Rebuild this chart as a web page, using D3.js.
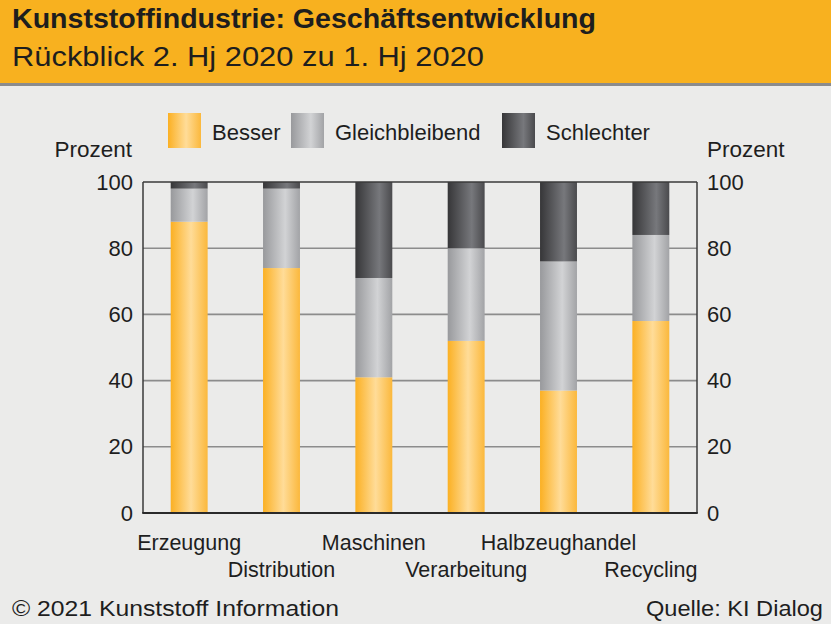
<!DOCTYPE html>
<html><head><meta charset="utf-8">
<script src="https://cdn.jsdelivr.net/npm/d3@7"></script>
<style>
html,body{margin:0;padding:0;background:#ebebea;}
svg{display:block;}
svg text{font-family:'Liberation Sans',Arial,sans-serif;}
</style></head>
<body><svg id="c" width="831" height="624"></svg>
<script>
const categories = ["Erzeugung","Distribution","Maschinen","Verarbeitung","Halbzeughandel","Recycling"];
const besser = [88, 74, 41, 52, 37, 58];
const gleich = [10, 24, 30, 28, 39, 26];
const schlechter = [2, 2, 29, 20, 24, 16];
const seriesNames = ["Besser","Gleichbleibend","Schlechter"];
const yTicks = [0,20,40,60,80,100];

(function(){
const FONT = "'Liberation Sans', Arial, sans-serif";
const svg = d3.select("#c");
const W = 831, H = 624;
svg.append("rect").attr("width",W).attr("height",H).attr("fill","#ebebea");

// header
svg.append("rect").attr("x",0).attr("y",0).attr("width",W).attr("height",83).attr("fill","#f8b11f");
svg.append("rect").attr("x",0).attr("y",83).attr("width",W).attr("height",3).attr("fill","#8a8b8d");
svg.append("text").attr("x",12).attr("y",28).attr("font-size",27.5).attr("font-weight","bold")
  .style("font-family",FONT).attr("textLength",584).attr("lengthAdjust","spacingAndGlyphs")
  .attr("fill","#1e1e1e").text("Kunststoffindustrie: Geschäftsentwicklung");
svg.append("text").attr("x",12).attr("y",66).attr("font-size",28).style("font-family",FONT)
  .attr("textLength",472).attr("lengthAdjust","spacingAndGlyphs")
  .attr("fill","#1e1e1e").text("Rückblick 2. Hj 2020 zu 1. Hj 2020");

// gradients
const defs = svg.append("defs");
const grads = [
  {id:"gB", stops:[["0%","#fbb023"],["55%","#ffdc98"],["100%","#fbb83c"]]},
  {id:"gG", stops:[["0%","#98999c"],["60%","#d2d3d5"],["100%","#a2a3a6"]]},
  {id:"gS", stops:[["0%","#363638"],["65%","#77787c"],["100%","#4a4a4d"]]}
];
grads.forEach(g=>{
  const lg = defs.append("linearGradient").attr("id",g.id).attr("x1","0%").attr("x2","100%").attr("y1","0%").attr("y2","0%");
  g.stops.forEach(s=>lg.append("stop").attr("offset",s[0]).attr("stop-color",s[1]));
});
const fills = ["url(#gB)","url(#gG)","url(#gS)"];

const pL = 143, pR = 697, pT = 182, pB = 513;
const x = d3.scaleBand().domain(categories).range([pL,pR]).paddingInner(0.6).paddingOuter(0.3);
const y = d3.scaleLinear().domain([0,100]).range([pB,pT]);

// gridlines
svg.append("g").selectAll("line").data(yTicks.filter(t=>t>0 && t<100)).join("line")
  .attr("x1",pL).attr("x2",pR).attr("y1",d=>y(d)).attr("y2",d=>y(d))
  .attr("stroke","#8c8c8c").attr("stroke-width",1.6);

// stacked bars
const rows = categories.map((c,i)=>({cat:c, Besser:besser[i], Gleichbleibend:gleich[i], Schlechter:schlechter[i]}));
const stack = d3.stack().keys(seriesNames)(rows);
svg.append("g").selectAll("g").data(stack).join("g").attr("fill",(d,i)=>fills[i])
  .selectAll("rect").data(d=>d).join("rect")
  .attr("x",d=>x(d.data.cat)).attr("width",x.bandwidth())
  .attr("y",d=>y(d[1])).attr("height",d=>y(d[0])-y(d[1]));

// frame
svg.append("line").attr("x1",pL).attr("x2",pR).attr("y1",pT).attr("y2",pT).attr("stroke","#3a3a3a").attr("stroke-width",1.5);
svg.append("line").attr("x1",pL).attr("x2",pL).attr("y1",pT).attr("y2",pB).attr("stroke","#3a3a3a").attr("stroke-width",1.5);
svg.append("line").attr("x1",pR).attr("x2",pR).attr("y1",pT).attr("y2",pB).attr("stroke","#3a3a3a").attr("stroke-width",1.5);
svg.append("line").attr("x1",pL-0.75).attr("x2",pR+0.75).attr("y1",pB).attr("y2",pB).attr("stroke","#2a2a2a").attr("stroke-width",2.2);

// y axes
const yAxL = d3.axisLeft(y).tickValues(yTicks).tickSize(0).tickPadding(10);
const gL = svg.append("g").attr("transform",`translate(${pL},0)`).call(yAxL);
gL.select(".domain").remove();
gL.attr("font-family",null).attr("font-size",null);
gL.selectAll("text").attr("font-size",22).attr("fill","#1e1e1e").style("font-family",FONT);
const yAxR = d3.axisRight(y).tickValues(yTicks).tickSize(0).tickPadding(10);
const gR = svg.append("g").attr("transform",`translate(${pR},0)`).call(yAxR);
gR.select(".domain").remove();
gR.attr("font-family",null).attr("font-size",null);
gR.selectAll("text").attr("font-size",22).attr("fill","#1e1e1e").style("font-family",FONT);

svg.append("text").attr("x",132).attr("y",157).attr("text-anchor","end").attr("font-size",22.5).style("font-family",FONT).attr("fill","#1e1e1e").text("Prozent");
svg.append("text").attr("x",707).attr("y",157).attr("font-size",22.5).style("font-family",FONT).attr("fill","#1e1e1e").text("Prozent");

// category labels (staggered)
svg.append("g").selectAll("text").data(categories).join("text")
  .attr("x",d=>x(d)+x.bandwidth()/2).attr("y",(d,i)=> i%2===0 ? 550 : 577)
  .attr("text-anchor","middle").attr("font-size",21.5).style("font-family",FONT).attr("fill","#1e1e1e").text(d=>d);

// legend
const legX = [168, 291, 502];
const lg = svg.append("g").selectAll("g").data(seriesNames).join("g")
  .attr("transform",(d,i)=>`translate(${legX[i]},113)`);
lg.append("rect").attr("width",33).attr("height",35).attr("fill",(d,i)=>fills[i]);
lg.append("text").attr("x",44).attr("y",27).attr("font-size",22).style("font-family",FONT).attr("fill","#1e1e1e").text(d=>d);

// footer
svg.append("text").attr("x",12).attr("y",616).attr("font-size",22).style("font-family",FONT)
  .attr("textLength",327).attr("lengthAdjust","spacingAndGlyphs")
  .attr("fill","#1e1e1e").text("© 2021 Kunststoff Information");
svg.append("text").attr("x",823).attr("y",616).attr("text-anchor","end").attr("font-size",22).style("font-family",FONT)
  .attr("textLength",177).attr("lengthAdjust","spacingAndGlyphs")
  .attr("fill","#1e1e1e").text("Quelle: KI Dialog");
})();
</script></body></html>
